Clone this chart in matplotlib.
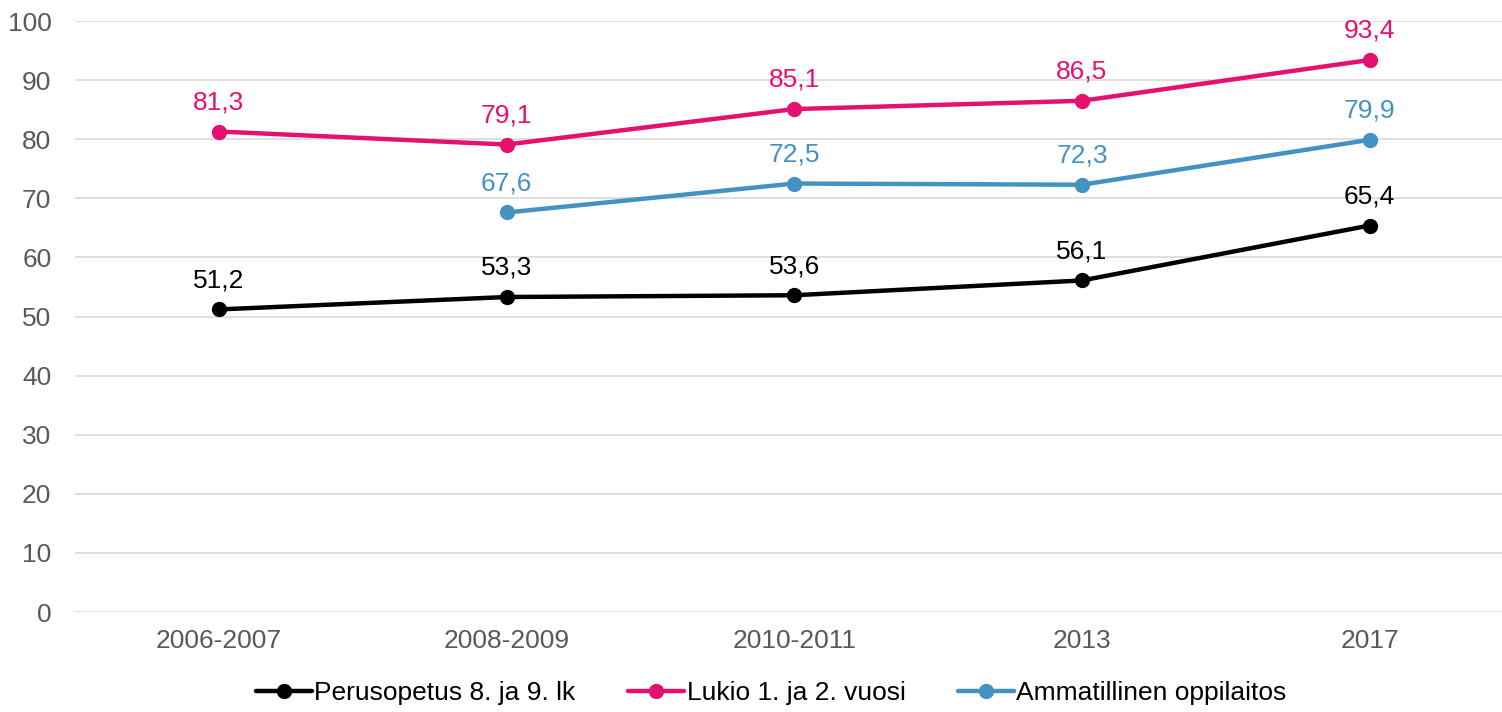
import numpy as np
import matplotlib
matplotlib.use('Agg')
from matplotlib import pyplot as plt

plt.rcParams['font.family'] = ['Liberation Sans', 'DejaVu Sans']

vuodet = ['2006-2007', '2008-2009', '2010-2011', '2013', '2017']
perusopetus = [51.2, 53.3, 53.6, 56.1, 65.4]
lukio = [81.3, 79.1, 85.1, 86.5, 93.4]
ammatillinen = [np.nan, 67.6, 72.5, 72.3, 79.9]

sarjat = [
    ('Perusopetus 8. ja 9. lk', perusopetus, '#000000'),
    ('Lukio 1. ja 2. vuosi', lukio, '#E5106F'),
    ('Ammatillinen oppilaitos', ammatillinen, '#4392C2'),
]

fig = plt.figure(figsize=(15.02, 7.12), dpi=100)
ax = fig.add_axes([0.05, 0.1404, 0.95, 0.8301])

x = np.arange(len(vuodet))
for nimi, arvot, vari in sarjat:
    ax.plot(x, arvot, color=vari, linewidth=3.2, marker='o', markersize=10,
            label=nimi, solid_capstyle='round', zorder=3)
    for xi, v in zip(x, arvot):
        if np.isnan(v):
            continue
        ax.annotate(f'{v:.1f}'.replace('.', ','), (xi, v), xytext=(0, 16),
                    textcoords='offset points', ha='center', va='baseline',
                    fontsize=19, color=vari)

ax.set_ylim(0, 100)
ax.set_xlim(-0.5, 4.46)
ax.set_yticks(range(0, 101, 10))
ax.set_xticks(x)
ax.set_xticklabels(vuodet)
ax.tick_params(axis='both', length=0, labelsize=19, colors='#595959')
ax.tick_params(axis='x', pad=12)
ax.tick_params(axis='y', pad=17)
ax.grid(axis='y', color='#D9D9D9', linewidth=1.2)
ax.set_axisbelow(True)
for s in ax.spines.values():
    s.set_visible(False)

ax.legend(loc='center', bbox_to_anchor=(0.488, -0.137), ncol=3, frameon=False,
          fontsize=19, handlelength=2.1, handletextpad=0.1, columnspacing=2.0,
          borderpad=0)

plt.savefig('out.png', dpi=100)
